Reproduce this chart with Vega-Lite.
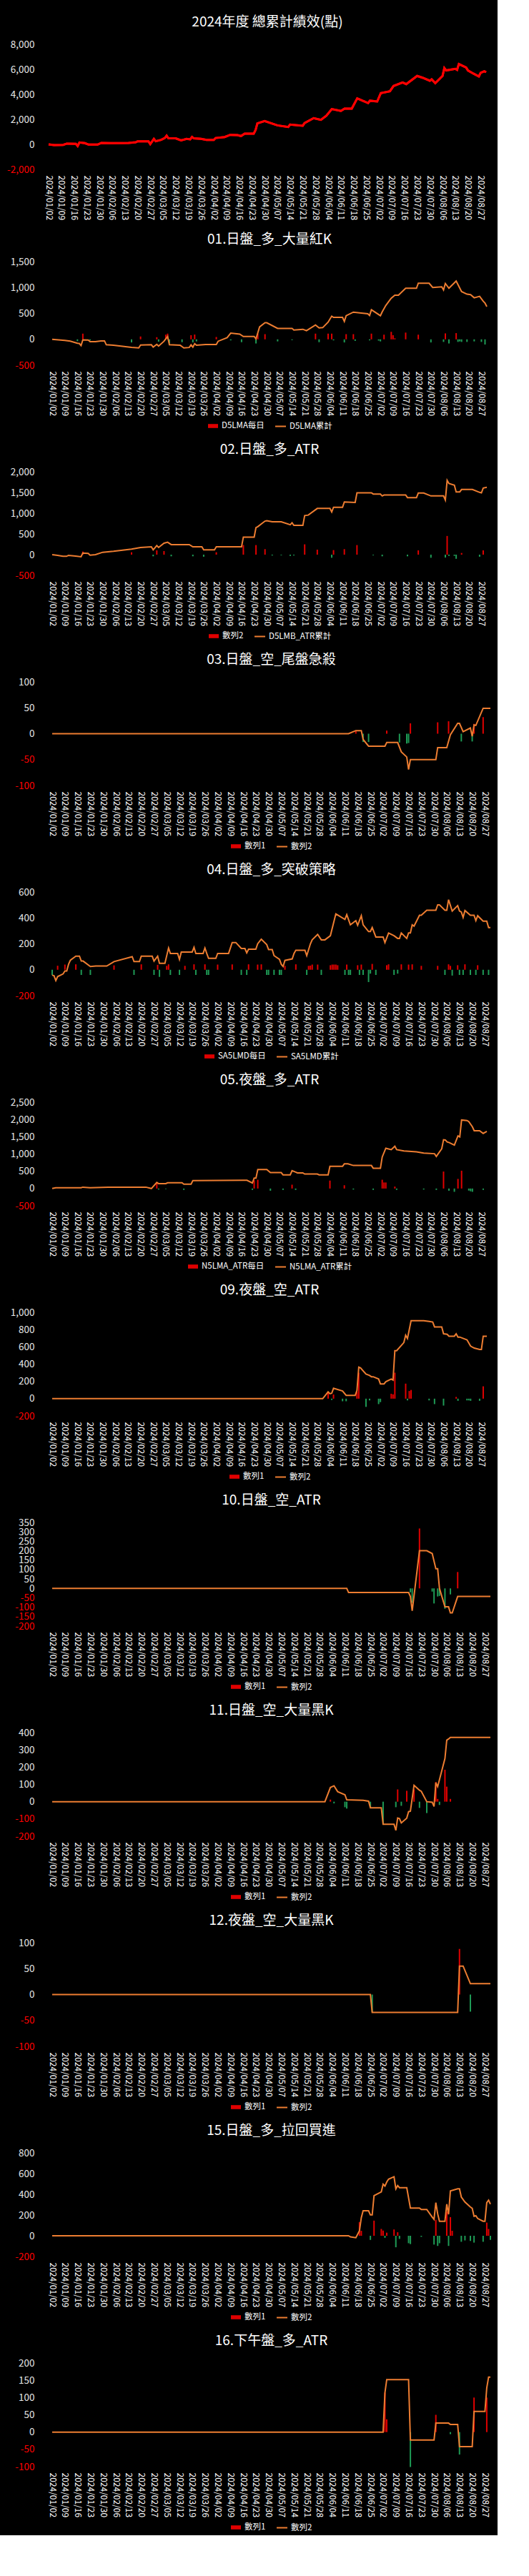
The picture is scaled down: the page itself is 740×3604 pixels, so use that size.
{
"$schema":"https://vega.github.io/schema/vega-lite/v6.json",
"background":"#000000",
"padding":{"left":5,"top":22,"right":5,"bottom":5},
"spacing":18,
"resolve":{"scale":{"fill":"independent","stroke":"independent"},"legend":{"fill":"independent","stroke":"independent"}},
"config":{
 "font":"Noto Sans CJK TC",
 "view":{"stroke":null},
 "title":{"color":"#ffffff","fontSize":19,"fontWeight":"normal","offset":14,"anchor":"middle"},
 "axis":{"grid":false,"domain":false,"ticks":false,"tickSize":0,"labelOverlap":false},
 "axisX":{"labelFontSize":12,"labelColor":"#ffffff","labelPadding":8,"labelFlush":false},
 "axisY":{"labelFontSize":13.5,"labelPadding":20},
 "legend":{"orient":"bottom","direction":"horizontal","labelColor":"#ffffff","labelFontSize":11.5,"offset":6,"layout":{"bottom":{"anchor":"middle","direction":"horizontal","margin":14}}}
},
"datasets":{
"p0":[{"d":"2024-01-02","c":0},{"d":"2024-01-05","c":-60},{"d":"2024-01-10","c":-40},{"d":"2024-01-12","c":60},{"d":"2024-01-17","c":40},{"d":"2024-01-18","c":-130},{"d":"2024-01-19","c":150},{"d":"2024-01-22","c":100},{"d":"2024-01-24","c":-20},{"d":"2024-01-29","c":-20},{"d":"2024-01-31","c":120},{"d":"2024-02-05","c":100},{"d":"2024-02-15","c":120},{"d":"2024-02-19","c":170},{"d":"2024-02-20","c":250},{"d":"2024-02-26","c":250},{"d":"2024-02-27","c":20},{"d":"2024-02-29","c":440},{"d":"2024-03-01","c":250},{"d":"2024-03-04","c":360},{"d":"2024-03-06","c":510},{"d":"2024-03-07","c":700},{"d":"2024-03-08","c":480},{"d":"2024-03-12","c":480},{"d":"2024-03-15","c":320},{"d":"2024-03-18","c":440},{"d":"2024-03-20","c":400},{"d":"2024-03-21","c":590},{"d":"2024-03-22","c":480},{"d":"2024-03-26","c":440},{"d":"2024-03-29","c":360},{"d":"2024-04-02","c":360},{"d":"2024-04-03","c":510},{"d":"2024-04-08","c":590},{"d":"2024-04-11","c":760},{"d":"2024-04-15","c":740},{"d":"2024-04-17","c":670},{"d":"2024-04-19","c":860},{"d":"2024-04-24","c":860},{"d":"2024-04-25","c":1140},{"d":"2024-04-26","c":1680},{"d":"2024-04-30","c":1870},{"d":"2024-05-07","c":1520},{"d":"2024-05-13","c":1390},{"d":"2024-05-14","c":1580},{"d":"2024-05-21","c":1490},{"d":"2024-05-22","c":1710},{"d":"2024-05-27","c":2100},{"d":"2024-05-31","c":1960},{"d":"2024-06-03","c":2290},{"d":"2024-06-06","c":2820},{"d":"2024-06-11","c":2670},{"d":"2024-06-13","c":2860},{"d":"2024-06-17","c":2860},{"d":"2024-06-20","c":3680},{"d":"2024-06-26","c":3300},{"d":"2024-06-27","c":3490},{"d":"2024-07-01","c":3430},{"d":"2024-07-03","c":4100},{"d":"2024-07-08","c":4250},{"d":"2024-07-10","c":4670},{"d":"2024-07-15","c":4950},{"d":"2024-07-17","c":4820},{"d":"2024-07-23","c":5470},{"d":"2024-07-26","c":5330},{"d":"2024-07-30","c":5090},{"d":"2024-07-31","c":5200},{"d":"2024-08-02","c":4900},{"d":"2024-08-06","c":5470},{"d":"2024-08-07","c":6100},{"d":"2024-08-08","c":5910},{"d":"2024-08-13","c":6040},{"d":"2024-08-14","c":5960},{"d":"2024-08-15","c":6420},{"d":"2024-08-19","c":6150},{"d":"2024-08-20","c":5910},{"d":"2024-08-23","c":5660},{"d":"2024-08-26","c":5430},{"d":"2024-08-27","c":5720},{"d":"2024-08-29","c":5850},{"d":"2024-08-30","c":5770}],
"p1":[{"d":"2024-01-02","c":0},{"d":"2024-01-09","c":-20},{"d":"2024-01-12","c":-35},{"d":"2024-01-16","c":-75},{"d":"2024-01-17","c":-80},{"d":"2024-01-18","c":-120},{"d":"2024-01-19","c":-10},{"d":"2024-01-22","c":-15},{"d":"2024-01-23","c":-45},{"d":"2024-01-26","c":-45},{"d":"2024-01-29","c":-30},{"d":"2024-01-31","c":-30},{"d":"2024-02-01","c":-105},{"d":"2024-02-05","c":-115},{"d":"2024-02-15","c":-155},{"d":"2024-02-19","c":-165},{"d":"2024-02-20","c":-110},{"d":"2024-02-26","c":-105},{"d":"2024-02-27","c":-150},{"d":"2024-02-29","c":-97},{"d":"2024-03-01","c":-130},{"d":"2024-03-04","c":-37},{"d":"2024-03-06","c":55},{"d":"2024-03-07","c":-105},{"d":"2024-03-13","c":-115},{"d":"2024-03-15","c":-165},{"d":"2024-03-18","c":-157},{"d":"2024-03-19","c":-105},{"d":"2024-03-20","c":-150},{"d":"2024-03-21","c":-83},{"d":"2024-03-22","c":-115},{"d":"2024-03-27","c":-100},{"d":"2024-04-02","c":-100},{"d":"2024-04-03","c":-37},{"d":"2024-04-08","c":32},{"d":"2024-04-10","c":120},{"d":"2024-04-15","c":100},{"d":"2024-04-17","c":55},{"d":"2024-04-23","c":55},{"d":"2024-04-24","c":10},{"d":"2024-04-25","c":125},{"d":"2024-04-26","c":240},{"d":"2024-04-29","c":320},{"d":"2024-04-30","c":320},{"d":"2024-05-06","c":212},{"d":"2024-05-14","c":212},{"d":"2024-05-15","c":180},{"d":"2024-05-20","c":194},{"d":"2024-05-22","c":166},{"d":"2024-05-27","c":276},{"d":"2024-05-29","c":221},{"d":"2024-05-31","c":226},{"d":"2024-06-03","c":332},{"d":"2024-06-05","c":447},{"d":"2024-06-06","c":424},{"d":"2024-06-11","c":424},{"d":"2024-06-12","c":346},{"d":"2024-06-13","c":456},{"d":"2024-06-17","c":525},{"d":"2024-06-25","c":493},{"d":"2024-06-26","c":460},{"d":"2024-06-27","c":571},{"d":"2024-07-02","c":456},{"d":"2024-07-03","c":530},{"d":"2024-07-05","c":654},{"d":"2024-07-08","c":793},{"d":"2024-07-10","c":852},{"d":"2024-07-12","c":852},{"d":"2024-07-16","c":986},{"d":"2024-07-22","c":986},{"d":"2024-07-23","c":1083},{"d":"2024-07-29","c":1083},{"d":"2024-07-31","c":1000},{"d":"2024-08-05","c":1014},{"d":"2024-08-06","c":954},{"d":"2024-08-07","c":1078},{"d":"2024-08-09","c":986},{"d":"2024-08-13","c":1124},{"d":"2024-08-16","c":922},{"d":"2024-08-19","c":871},{"d":"2024-08-21","c":862},{"d":"2024-08-23","c":802},{"d":"2024-08-26","c":829},{"d":"2024-08-28","c":737},{"d":"2024-08-29","c":700},{"d":"2024-08-30","c":631},
{"d":"2024-01-16","v":-35},{"d":"2024-01-19","v":110},{"d":"2024-01-23","v":-20},{"d":"2024-02-15","v":-60},{"d":"2024-02-20","v":55},{"d":"2024-02-29","v":41},{"d":"2024-03-01","v":-45},{"d":"2024-03-05","v":90},{"d":"2024-03-06","v":110},{"d":"2024-03-07","v":-80},{"d":"2024-03-14","v":-55},{"d":"2024-03-19","v":80},{"d":"2024-03-20","v":-60},{"d":"2024-03-21","v":92},{"d":"2024-03-22","v":-40},{"d":"2024-04-02","v":45},{"d":"2024-04-10","v":-20},{"d":"2024-04-16","v":-55},{"d":"2024-04-24","v":-80},{"d":"2024-04-25","v":110},{"d":"2024-04-29","v":100},{"d":"2024-05-06","v":-40},{"d":"2024-05-14","v":-15},{"d":"2024-05-27","v":110},{"d":"2024-05-29","v":-55},{"d":"2024-06-03","v":110},{"d":"2024-06-05","v":110},{"d":"2024-06-06","v":-20},{"d":"2024-06-12","v":-60},{"d":"2024-06-13","v":100},{"d":"2024-06-17","v":100},{"d":"2024-06-18","v":-30},{"d":"2024-06-26","v":-20},{"d":"2024-06-27","v":110},{"d":"2024-07-01","v":-25},{"d":"2024-07-02","v":-40},{"d":"2024-07-04","v":90},{"d":"2024-07-08","v":145},{"d":"2024-07-09","v":80},{"d":"2024-07-10","v":20},{"d":"2024-07-16","v":130},{"d":"2024-07-23","v":90},{"d":"2024-07-30","v":-60},{"d":"2024-08-06","v":-50},{"d":"2024-08-07","v":115},{"d":"2024-08-09","v":-80},{"d":"2024-08-13","v":120},{"d":"2024-08-14","v":-50},{"d":"2024-08-15","v":-40},{"d":"2024-08-16","v":-50},{"d":"2024-08-19","v":-50},{"d":"2024-08-23","v":-40},{"d":"2024-08-27","v":-50},{"d":"2024-08-29","v":-100}],
"p2":[{"d":"2024-01-02","c":0},{"d":"2024-01-05","c":-17},{"d":"2024-01-08","c":-40},{"d":"2024-01-10","c":-40},{"d":"2024-01-11","c":-17},{"d":"2024-01-15","c":-35},{"d":"2024-01-18","c":-52},{"d":"2024-01-19","c":40},{"d":"2024-01-22","c":29},{"d":"2024-01-23","c":-12},{"d":"2024-01-26","c":0},{"d":"2024-01-30","c":58},{"d":"2024-02-02","c":69},{"d":"2024-02-05","c":80},{"d":"2024-02-15","c":133},{"d":"2024-02-20","c":173},{"d":"2024-02-26","c":190},{"d":"2024-02-27","c":116},{"d":"2024-02-29","c":220},{"d":"2024-03-01","c":173},{"d":"2024-03-04","c":277},{"d":"2024-03-06","c":300},{"d":"2024-03-08","c":243},{"d":"2024-03-18","c":243},{"d":"2024-03-20","c":190},{"d":"2024-03-25","c":190},{"d":"2024-03-26","c":116},{"d":"2024-04-01","c":116},{"d":"2024-04-02","c":190},{"d":"2024-04-16","c":190},{"d":"2024-04-17","c":422},{"d":"2024-04-23","c":422},{"d":"2024-04-24","c":653},{"d":"2024-04-25","c":676},{"d":"2024-04-29","c":809},{"d":"2024-04-30","c":820},{"d":"2024-05-03","c":792},{"d":"2024-05-08","c":792},{"d":"2024-05-13","c":722},{"d":"2024-05-14","c":769},{"d":"2024-05-15","c":705},{"d":"2024-05-20","c":705},{"d":"2024-05-21","c":942},{"d":"2024-05-23","c":954},{"d":"2024-05-28","c":1115},{"d":"2024-06-04","c":1115},{"d":"2024-06-05","c":1029},{"d":"2024-06-06","c":1144},{"d":"2024-06-11","c":1144},{"d":"2024-06-12","c":1272},{"d":"2024-06-18","c":1260},{"d":"2024-06-19","c":1491},{"d":"2024-06-27","c":1491},{"d":"2024-06-28","c":1462},{"d":"2024-07-02","c":1462},{"d":"2024-07-03","c":1416},{"d":"2024-07-04","c":1439},{"d":"2024-07-16","c":1439},{"d":"2024-07-17","c":1376},{"d":"2024-07-22","c":1376},{"d":"2024-07-23","c":1485},{"d":"2024-07-26","c":1485},{"d":"2024-07-30","c":1416},{"d":"2024-08-06","c":1416},{"d":"2024-08-07","c":1318},{"d":"2024-08-08","c":1792},{"d":"2024-08-09","c":1717},{"d":"2024-08-12","c":1676},{"d":"2024-08-13","c":1514},{"d":"2024-08-15","c":1514},{"d":"2024-08-16","c":1572},{"d":"2024-08-22","c":1572},{"d":"2024-08-26","c":1503},{"d":"2024-08-27","c":1490},{"d":"2024-08-28","c":1607},{"d":"2024-08-30","c":1624},
{"d":"2024-01-19","v":75},{"d":"2024-02-15","v":58},{"d":"2024-02-27","v":-40},{"d":"2024-02-29","v":104},{"d":"2024-03-04","v":87},{"d":"2024-03-08","v":-40},{"d":"2024-03-20","v":-40},{"d":"2024-03-26","v":-50},{"d":"2024-04-02","v":58},{"d":"2024-04-17","v":231},{"d":"2024-04-24","v":231},{"d":"2024-04-29","v":133},{"d":"2024-05-03","v":-20},{"d":"2024-05-08","v":-15},{"d":"2024-05-13","v":-30},{"d":"2024-05-15","v":-20},{"d":"2024-05-21","v":249},{"d":"2024-05-28","v":121},{"d":"2024-06-05","v":-75},{"d":"2024-06-06","v":110},{"d":"2024-06-12","v":133},{"d":"2024-06-19","v":231},{"d":"2024-06-28","v":-15},{"d":"2024-07-03","v":-40},{"d":"2024-07-17","v":-40},{"d":"2024-07-23","v":104},{"d":"2024-07-30","v":-75},{"d":"2024-08-07","v":-70},{"d":"2024-08-08","v":451},{"d":"2024-08-09","v":-30},{"d":"2024-08-12","v":-30},{"d":"2024-08-13","v":-100},{"d":"2024-08-16","v":40},{"d":"2024-08-26","v":-50},{"d":"2024-08-28","v":104}],
"p3":[{"d":"2024-01-02","c":0},{"d":"2024-06-13","c":0},{"d":"2024-06-17","c":6},{"d":"2024-06-20","c":6},{"d":"2024-06-21","c":-11},{"d":"2024-06-24","c":-24},{"d":"2024-07-03","c":-24},{"d":"2024-07-04","c":-17},{"d":"2024-07-10","c":-17},{"d":"2024-07-12","c":-35},{"d":"2024-07-15","c":-45},{"d":"2024-07-16","c":-69},{"d":"2024-07-17","c":-50},{"d":"2024-07-31","c":-50},{"d":"2024-08-01","c":-27},{"d":"2024-08-06","c":-27},{"d":"2024-08-08","c":-2},{"d":"2024-08-12","c":20},{"d":"2024-08-13","c":20},{"d":"2024-08-15","c":4},{"d":"2024-08-19","c":11},{"d":"2024-08-20","c":-5},{"d":"2024-08-21","c":17},{"d":"2024-08-22","c":16},{"d":"2024-08-26","c":49},{"d":"2024-08-30","c":49},
{"d":"2024-06-17","v":6},{"d":"2024-06-21","v":-16},{"d":"2024-06-24","v":-16},{"d":"2024-07-04","v":6},{"d":"2024-07-11","v":-17},{"d":"2024-07-15","v":-19},{"d":"2024-07-16","v":-18},{"d":"2024-07-17","v":20},{"d":"2024-08-01","v":22},{"d":"2024-08-07","v":24},{"d":"2024-08-14","v":-15},{"d":"2024-08-20","v":-15},{"d":"2024-08-21","v":19},{"d":"2024-08-26","v":32}],
"p4":[{"d":"2024-01-02","c":-42},{"d":"2024-01-03","c":-46},{"d":"2024-01-04","c":-84},{"d":"2024-01-05","c":-53},{"d":"2024-01-08","c":-32},{"d":"2024-01-09","c":-10},{"d":"2024-01-10","c":-10},{"d":"2024-01-11","c":42},{"d":"2024-01-12","c":74},{"d":"2024-01-15","c":105},{"d":"2024-01-17","c":105},{"d":"2024-01-18","c":67},{"d":"2024-01-19","c":67},{"d":"2024-01-23","c":25},{"d":"2024-01-26","c":29},{"d":"2024-02-01","c":29},{"d":"2024-02-05","c":63},{"d":"2024-02-15","c":101},{"d":"2024-02-16","c":63},{"d":"2024-02-19","c":63},{"d":"2024-02-20","c":105},{"d":"2024-02-26","c":105},{"d":"2024-02-27","c":67},{"d":"2024-02-29","c":105},{"d":"2024-03-01","c":50},{"d":"2024-03-04","c":50},{"d":"2024-03-06","c":168},{"d":"2024-03-07","c":126},{"d":"2024-03-11","c":126},{"d":"2024-03-12","c":80},{"d":"2024-03-13","c":137},{"d":"2024-03-19","c":137},{"d":"2024-03-20","c":173},{"d":"2024-03-21","c":126},{"d":"2024-03-25","c":126},{"d":"2024-03-26","c":168},{"d":"2024-03-27","c":126},{"d":"2024-03-28","c":88},{"d":"2024-04-01","c":88},{"d":"2024-04-02","c":126},{"d":"2024-04-08","c":126},{"d":"2024-04-10","c":210},{"d":"2024-04-12","c":210},{"d":"2024-04-15","c":164},{"d":"2024-04-17","c":164},{"d":"2024-04-18","c":130},{"d":"2024-04-19","c":158},{"d":"2024-04-23","c":158},{"d":"2024-04-24","c":200},{"d":"2024-04-26","c":236},{"d":"2024-04-29","c":194},{"d":"2024-04-30","c":156},{"d":"2024-05-02","c":156},{"d":"2024-05-03","c":109},{"d":"2024-05-06","c":80},{"d":"2024-05-07","c":42},{"d":"2024-05-08","c":25},{"d":"2024-05-09","c":72},{"d":"2024-05-13","c":84},{"d":"2024-05-14","c":126},{"d":"2024-05-15","c":151},{"d":"2024-05-20","c":151},{"d":"2024-05-21","c":109},{"d":"2024-05-23","c":200},{"d":"2024-05-24","c":231},{"d":"2024-05-27","c":273},{"d":"2024-05-29","c":231},{"d":"2024-05-31","c":231},{"d":"2024-06-03","c":263},{"d":"2024-06-06","c":431},{"d":"2024-06-11","c":389},{"d":"2024-06-12","c":425},{"d":"2024-06-14","c":347},{"d":"2024-06-17","c":379},{"d":"2024-06-18","c":343},{"d":"2024-06-20","c":417},{"d":"2024-06-21","c":347},{"d":"2024-06-24","c":295},{"d":"2024-06-25","c":295},{"d":"2024-06-26","c":326},{"d":"2024-06-28","c":253},{"d":"2024-07-02","c":253},{"d":"2024-07-03","c":210},{"d":"2024-07-05","c":284},{"d":"2024-07-08","c":263},{"d":"2024-07-10","c":242},{"d":"2024-07-11","c":242},{"d":"2024-07-12","c":284},{"d":"2024-07-15","c":242},{"d":"2024-07-16","c":284},{"d":"2024-07-17","c":284},{"d":"2024-07-18","c":347},{"d":"2024-07-19","c":337},{"d":"2024-07-22","c":421},{"d":"2024-07-23","c":421},{"d":"2024-07-26","c":459},{"d":"2024-07-31","c":459},{"d":"2024-08-01","c":501},{"d":"2024-08-02","c":501},{"d":"2024-08-05","c":459},{"d":"2024-08-06","c":459},{"d":"2024-08-07","c":541},{"d":"2024-08-09","c":453},{"d":"2024-08-12","c":495},{"d":"2024-08-13","c":453},{"d":"2024-08-14","c":446},{"d":"2024-08-15","c":404},{"d":"2024-08-16","c":457},{"d":"2024-08-19","c":421},{"d":"2024-08-21","c":421},{"d":"2024-08-22","c":379},{"d":"2024-08-23","c":417},{"d":"2024-08-26","c":375},{"d":"2024-08-28","c":375},{"d":"2024-08-29","c":326},{"d":"2024-08-30","c":326},
{"d":"2024-01-05","v":31},{"d":"2024-01-09","v":40},{"d":"2024-01-15","v":42},{"d":"2024-02-05","v":34},{"d":"2024-02-20","v":42},{"d":"2024-02-29","v":38},{"d":"2024-03-05","v":30},{"d":"2024-03-06","v":42},{"d":"2024-03-15","v":30},{"d":"2024-03-20","v":42},{"d":"2024-03-26","v":42},{"d":"2024-04-02","v":40},{"d":"2024-04-10","v":42},{"d":"2024-04-19","v":42},{"d":"2024-04-24","v":40},{"d":"2024-04-26","v":42},{"d":"2024-05-09","v":30},{"d":"2024-05-15","v":42},{"d":"2024-05-22","v":30},{"d":"2024-05-23","v":32},{"d":"2024-05-24","v":40},{"d":"2024-05-27","v":40},{"d":"2024-06-03","v":35},{"d":"2024-06-04","v":40},{"d":"2024-06-05","v":40},{"d":"2024-06-06","v":40},{"d":"2024-06-07","v":35},{"d":"2024-06-12","v":40},{"d":"2024-06-18","v":35},{"d":"2024-06-20","v":40},{"d":"2024-06-26","v":45},{"d":"2024-07-04","v":35},{"d":"2024-07-05","v":42},{"d":"2024-07-12","v":42},{"d":"2024-07-16","v":40},{"d":"2024-07-18","v":42},{"d":"2024-07-23","v":30},{"d":"2024-08-01","v":30},{"d":"2024-08-07","v":42},{"d":"2024-08-08","v":30},{"d":"2024-08-12","v":35},{"d":"2024-08-16","v":42},{"d":"2024-08-23","v":35},
{"d":"2024-01-02","v":-42},{"d":"2024-01-18","v":-40},{"d":"2024-01-23","v":-40},{"d":"2024-02-16","v":-40},{"d":"2024-02-27","v":-40},{"d":"2024-03-01","v":-55},{"d":"2024-03-07","v":-40},{"d":"2024-03-12","v":-40},{"d":"2024-03-21","v":-40},{"d":"2024-03-27","v":-40},{"d":"2024-03-28","v":-40},{"d":"2024-04-15","v":-40},{"d":"2024-04-18","v":-40},{"d":"2024-04-29","v":-40},{"d":"2024-04-30","v":-40},{"d":"2024-05-03","v":-40},{"d":"2024-05-06","v":-40},{"d":"2024-05-07","v":-40},{"d":"2024-05-21","v":-40},{"d":"2024-05-29","v":-40},{"d":"2024-06-11","v":-40},{"d":"2024-06-13","v":-40},{"d":"2024-06-14","v":-40},{"d":"2024-06-19","v":-40},{"d":"2024-06-21","v":-40},{"d":"2024-06-24","v":-95},{"d":"2024-06-25","v":-30},{"d":"2024-06-28","v":-40},{"d":"2024-07-08","v":-40},{"d":"2024-07-10","v":-30},{"d":"2024-08-05","v":-40},{"d":"2024-08-09","v":-45},{"d":"2024-08-13","v":-40},{"d":"2024-08-15","v":-40},{"d":"2024-08-19","v":-40},{"d":"2024-08-22","v":-40},{"d":"2024-08-26","v":-40},{"d":"2024-08-29","v":-40}],
"p5":[{"d":"2024-01-02","c":0},{"d":"2024-01-04","c":24},{"d":"2024-01-18","c":24},{"d":"2024-01-19","c":40},{"d":"2024-01-23","c":24},{"d":"2024-02-02","c":40},{"d":"2024-02-23","c":40},{"d":"2024-02-26","c":0},{"d":"2024-02-29","c":175},{"d":"2024-03-01","c":143},{"d":"2024-03-05","c":143},{"d":"2024-03-06","c":167},{"d":"2024-03-14","c":167},{"d":"2024-03-15","c":127},{"d":"2024-03-19","c":127},{"d":"2024-03-20","c":230},{"d":"2024-04-17","c":238},{"d":"2024-04-19","c":238},{"d":"2024-04-22","c":159},{"d":"2024-04-23","c":302},{"d":"2024-04-24","c":302},{"d":"2024-04-25","c":548},{"d":"2024-04-30","c":548},{"d":"2024-05-02","c":460},{"d":"2024-05-08","c":460},{"d":"2024-05-09","c":397},{"d":"2024-05-13","c":397},{"d":"2024-05-14","c":516},{"d":"2024-05-16","c":476},{"d":"2024-05-17","c":452},{"d":"2024-05-20","c":452},{"d":"2024-05-21","c":421},{"d":"2024-05-28","c":421},{"d":"2024-05-29","c":397},{"d":"2024-06-03","c":397},{"d":"2024-06-04","c":643},{"d":"2024-06-11","c":643},{"d":"2024-06-12","c":714},{"d":"2024-06-14","c":714},{"d":"2024-06-17","c":667},{"d":"2024-06-27","c":667},{"d":"2024-06-28","c":588},{"d":"2024-07-02","c":588},{"d":"2024-07-03","c":913},{"d":"2024-07-05","c":1167},{"d":"2024-07-08","c":1127},{"d":"2024-07-10","c":1223},{"d":"2024-07-11","c":1127},{"d":"2024-07-15","c":1088},{"d":"2024-07-22","c":1064},{"d":"2024-07-26","c":1024},{"d":"2024-08-01","c":1008},{"d":"2024-08-02","c":929},{"d":"2024-08-05","c":1151},{"d":"2024-08-06","c":1413},{"d":"2024-08-07","c":1405},{"d":"2024-08-08","c":1350},{"d":"2024-08-09","c":1334},{"d":"2024-08-12","c":1254},{"d":"2024-08-14","c":1524},{"d":"2024-08-15","c":1493},{"d":"2024-08-16","c":1985},{"d":"2024-08-19","c":1969},{"d":"2024-08-20","c":1937},{"d":"2024-08-22","c":1787},{"d":"2024-08-23","c":1675},{"d":"2024-08-26","c":1675},{"d":"2024-08-28","c":1596},{"d":"2024-08-30","c":1652},
{"d":"2024-02-29","v":175},{"d":"2024-03-01","v":-30},{"d":"2024-03-05","v":-15},{"d":"2024-03-15","v":-40},{"d":"2024-04-22","v":-40},{"d":"2024-04-23","v":238},{"d":"2024-04-25","v":254},{"d":"2024-05-02","v":-64},{"d":"2024-05-09","v":-40},{"d":"2024-05-14","v":111},{"d":"2024-05-16","v":-40},{"d":"2024-06-04","v":230},{"d":"2024-06-12","v":95},{"d":"2024-06-17","v":-30},{"d":"2024-06-28","v":-40},{"d":"2024-07-03","v":254},{"d":"2024-07-04","v":175},{"d":"2024-07-05","v":175},{"d":"2024-07-10","v":56},{"d":"2024-07-11","v":-40},{"d":"2024-07-26","v":-30},{"d":"2024-08-02","v":-40},{"d":"2024-08-06","v":492},{"d":"2024-08-09","v":-64},{"d":"2024-08-12","v":-95},{"d":"2024-08-14","v":278},{"d":"2024-08-16","v":516},{"d":"2024-08-20","v":-60},{"d":"2024-08-21","v":-80},{"d":"2024-08-22","v":-95},{"d":"2024-08-28","v":-40}],
"p9":[{"d":"2024-01-02","c":0},{"d":"2024-05-31","c":0},{"d":"2024-06-03","c":79},{"d":"2024-06-04","c":57},{"d":"2024-06-05","c":63},{"d":"2024-06-06","c":120},{"d":"2024-06-11","c":89},{"d":"2024-06-13","c":38},{"d":"2024-06-18","c":38},{"d":"2024-06-19","c":95},{"d":"2024-06-20","c":365},{"d":"2024-06-21","c":355},{"d":"2024-06-24","c":285},{"d":"2024-06-26","c":269},{"d":"2024-06-27","c":254},{"d":"2024-06-28","c":254},{"d":"2024-07-01","c":228},{"d":"2024-07-02","c":171},{"d":"2024-07-04","c":171},{"d":"2024-07-05","c":197},{"d":"2024-07-08","c":228},{"d":"2024-07-09","c":216},{"d":"2024-07-10","c":555},{"d":"2024-07-11","c":555},{"d":"2024-07-15","c":650},{"d":"2024-07-16","c":735},{"d":"2024-07-17","c":697},{"d":"2024-07-19","c":903},{"d":"2024-07-26","c":903},{"d":"2024-07-29","c":894},{"d":"2024-07-31","c":888},{"d":"2024-08-01","c":831},{"d":"2024-08-05","c":831},{"d":"2024-08-06","c":751},{"d":"2024-08-08","c":745},{"d":"2024-08-09","c":723},{"d":"2024-08-12","c":723},{"d":"2024-08-13","c":751},{"d":"2024-08-14","c":713},{"d":"2024-08-15","c":713},{"d":"2024-08-19","c":681},{"d":"2024-08-21","c":608},{"d":"2024-08-23","c":586},{"d":"2024-08-26","c":570},{"d":"2024-08-27","c":570},{"d":"2024-08-28","c":723},{"d":"2024-08-30","c":723},
{"d":"2024-06-03","v":79},{"d":"2024-06-05","v":-15},{"d":"2024-06-06","v":48},{"d":"2024-06-11","v":-30},{"d":"2024-06-13","v":-30},{"d":"2024-06-19","v":79},{"d":"2024-06-20","v":300},{"d":"2024-06-24","v":-95},{"d":"2024-06-26","v":-20},{"d":"2024-07-01","v":-63},{"d":"2024-07-02","v":-40},{"d":"2024-07-08","v":57},{"d":"2024-07-09","v":50},{"d":"2024-07-10","v":301},{"d":"2024-07-16","v":174},{"d":"2024-07-17","v":-20},{"d":"2024-07-18","v":89},{"d":"2024-07-19","v":101},{"d":"2024-07-29","v":-20},{"d":"2024-08-01","v":-63},{"d":"2024-08-06","v":-80},{"d":"2024-08-13","v":20},{"d":"2024-08-14","v":-25},{"d":"2024-08-19","v":-20},{"d":"2024-08-20","v":-20},{"d":"2024-08-21","v":-25},{"d":"2024-08-26","v":-25},{"d":"2024-08-28","v":143}],
"p10":[{"d":"2024-01-02","c":0},{"d":"2024-06-12","c":0},{"d":"2024-06-13","c":-22},{"d":"2024-07-16","c":-22},{"d":"2024-07-17","c":-43},{"d":"2024-07-18","c":-119},{"d":"2024-07-22","c":200},{"d":"2024-07-26","c":200},{"d":"2024-07-29","c":185},{"d":"2024-07-31","c":104},{"d":"2024-08-01","c":104},{"d":"2024-08-02","c":0},{"d":"2024-08-05","c":-98},{"d":"2024-08-07","c":-98},{"d":"2024-08-08","c":-130},{"d":"2024-08-09","c":-130},{"d":"2024-08-12","c":-43},{"d":"2024-08-30","c":-43},
{"d":"2024-07-17","v":-21},{"d":"2024-07-18","v":-76},{"d":"2024-07-22","v":318},{"d":"2024-07-29","v":-17},{"d":"2024-07-30","v":-80},{"d":"2024-08-01","v":-43},{"d":"2024-08-02","v":-40},{"d":"2024-08-05","v":-108},{"d":"2024-08-08","v":-32},{"d":"2024-08-12","v":87}],
"p11":[{"d":"2024-01-02","c":0},{"d":"2024-05-31","c":0},{"d":"2024-06-03","c":82},{"d":"2024-06-05","c":92},{"d":"2024-06-07","c":58},{"d":"2024-06-11","c":40},{"d":"2024-06-12","c":11},{"d":"2024-06-21","c":8},{"d":"2024-06-24","c":3},{"d":"2024-06-25","c":-35},{"d":"2024-07-01","c":-35},{"d":"2024-07-02","c":-131},{"d":"2024-07-08","c":-131},{"d":"2024-07-09","c":-166},{"d":"2024-07-10","c":-95},{"d":"2024-07-11","c":-98},{"d":"2024-07-12","c":-123},{"d":"2024-07-15","c":-95},{"d":"2024-07-16","c":-58},{"d":"2024-07-17","c":-55},{"d":"2024-07-19","c":95},{"d":"2024-07-22","c":66},{"d":"2024-07-23","c":60},{"d":"2024-07-26","c":0},{"d":"2024-07-29","c":-3},{"d":"2024-07-30","c":-28},{"d":"2024-07-31","c":110},{"d":"2024-08-01","c":87},{"d":"2024-08-05","c":250},{"d":"2024-08-06","c":356},{"d":"2024-08-07","c":363},{"d":"2024-08-08","c":372},{"d":"2024-08-30","c":372},
{"d":"2024-06-03","v":12},{"d":"2024-06-05","v":-10},{"d":"2024-06-11","v":-32},{"d":"2024-06-12","v":-40},{"d":"2024-06-25","v":-32},{"d":"2024-07-02","v":-134},{"d":"2024-07-09","v":-32},{"d":"2024-07-10","v":71},{"d":"2024-07-12","v":-24},{"d":"2024-07-15","v":63},{"d":"2024-07-19","v":71},{"d":"2024-07-22","v":-36},{"d":"2024-07-26","v":-66},{"d":"2024-07-31","v":114},{"d":"2024-08-01","v":16},{"d":"2024-08-02","v":-19},{"d":"2024-08-05","v":185},{"d":"2024-08-06","v":87},{"d":"2024-08-08","v":16}],
"p12":[{"d":"2024-01-02","c":0},{"d":"2024-06-25","c":0},{"d":"2024-06-26","c":-34.5},{"d":"2024-08-12","c":-34.5},{"d":"2024-08-13","c":55},{"d":"2024-08-15","c":55},{"d":"2024-08-19","c":21},{"d":"2024-08-30","c":21},
{"d":"2024-06-26","v":-34},{"d":"2024-08-13","v":88},{"d":"2024-08-19","v":-33}],
"p15":[{"d":"2024-01-02","c":0},{"d":"2024-06-13","c":0},{"d":"2024-06-14","c":-11},{"d":"2024-06-17","c":-19},{"d":"2024-06-19","c":48},{"d":"2024-06-20","c":175},{"d":"2024-06-21","c":241},{"d":"2024-06-24","c":241},{"d":"2024-06-25","c":201},{"d":"2024-06-26","c":201},{"d":"2024-06-27","c":387},{"d":"2024-07-01","c":424},{"d":"2024-07-02","c":498},{"d":"2024-07-03","c":479},{"d":"2024-07-04","c":519},{"d":"2024-07-05","c":546},{"d":"2024-07-08","c":570},{"d":"2024-07-09","c":453},{"d":"2024-07-10","c":485},{"d":"2024-07-11","c":464},{"d":"2024-07-15","c":464},{"d":"2024-07-17","c":268},{"d":"2024-07-22","c":268},{"d":"2024-07-23","c":254},{"d":"2024-07-26","c":254},{"d":"2024-07-29","c":180},{"d":"2024-07-30","c":159},{"d":"2024-07-31","c":320},{"d":"2024-08-01","c":212},{"d":"2024-08-02","c":140},{"d":"2024-08-05","c":140},{"d":"2024-08-06","c":305},{"d":"2024-08-07","c":207},{"d":"2024-08-08","c":432},{"d":"2024-08-12","c":453},{"d":"2024-08-13","c":453},{"d":"2024-08-14","c":374},{"d":"2024-08-16","c":326},{"d":"2024-08-19","c":278},{"d":"2024-08-20","c":265},{"d":"2024-08-21","c":188},{"d":"2024-08-22","c":193},{"d":"2024-08-23","c":167},{"d":"2024-08-26","c":140},{"d":"2024-08-27","c":140},{"d":"2024-08-28","c":320},{"d":"2024-08-29","c":344},{"d":"2024-08-30","c":305},
{"d":"2024-06-19","v":132},{"d":"2024-06-20","v":48},{"d":"2024-06-25","v":-40},{"d":"2024-06-27","v":146},{"d":"2024-07-01","v":66},{"d":"2024-07-02","v":50},{"d":"2024-07-03","v":-20},{"d":"2024-07-04","v":30},{"d":"2024-07-08","v":61},{"d":"2024-07-09","v":-111},{"d":"2024-07-10","v":34},{"d":"2024-07-11","v":-30},{"d":"2024-07-16","v":-72},{"d":"2024-07-17","v":-80},{"d":"2024-07-23","v":-10},{"d":"2024-07-30","v":-85},{"d":"2024-07-31","v":154},{"d":"2024-08-01","v":-98},{"d":"2024-08-02","v":-72},{"d":"2024-08-06","v":233},{"d":"2024-08-07","v":-98},{"d":"2024-08-08","v":180},{"d":"2024-08-09","v":48},{"d":"2024-08-14","v":-58},{"d":"2024-08-16","v":-45},{"d":"2024-08-19","v":-50},{"d":"2024-08-21","v":-66},{"d":"2024-08-26","v":-58},{"d":"2024-08-28","v":127},{"d":"2024-08-29","v":66},{"d":"2024-08-30","v":-40}],
"p16":[{"d":"2024-01-02","c":0},{"d":"2024-07-02","c":0},{"d":"2024-07-03","c":114},{"d":"2024-07-04","c":152},{"d":"2024-07-16","c":152},{"d":"2024-07-17","c":-23},{"d":"2024-07-30","c":-23},{"d":"2024-07-31","c":26},{"d":"2024-08-07","c":26},{"d":"2024-08-08","c":22},{"d":"2024-08-12","c":22},{"d":"2024-08-13","c":-42},{"d":"2024-08-20","c":-42},{"d":"2024-08-21","c":60},{"d":"2024-08-27","c":60},{"d":"2024-08-28","c":128},{"d":"2024-08-29","c":159},{"d":"2024-08-30","c":159},
{"d":"2024-07-03","v":114},{"d":"2024-07-04","v":37},{"d":"2024-07-17","v":-101},{"d":"2024-07-31","v":50},{"d":"2024-08-08","v":-6},{"d":"2024-08-13","v":-65},{"d":"2024-08-21","v":100},{"d":"2024-08-28","v":100}]
},
"vconcat":[
{"title":"2024年度 總累計績效(點)","width":612,"height":175,"data":{"name":"p0"},
 "encoding":{"x":{"field":"d","type":"temporal","scale":{"type":"utc","domain":[1704153600000,1724976000000]},"axis":{"values":[1704153600000,1704758400000,1705363200000,1705968000000,1706572800000,1707177600000,1707782400000,1708387200000,1708992000000,1709596800000,1710201600000,1710806400000,1711411200000,1712016000000,1712620800000,1713225600000,1713830400000,1714435200000,1715040000000,1715644800000,1716249600000,1716854400000,1717459200000,1718064000000,1718668800000,1719273600000,1719878400000,1720483200000,1721088000000,1721692800000,1722297600000,1722902400000,1723507200000,1724112000000,1724716800000],"tickCount":100,"format":"%Y/%m/%d","labelAngle":90,"labelOverlap":false,"title":null}}},
 "layer":[
  {"mark":{"type":"line","color":"#ff0000","strokeWidth":3},"encoding":{"y":{"field":"c","type":"quantitative","scale":{"domain":[-2000,8000],"nice":false},"axis":{"values":[-2000,0,2000,4000,6000,8000],"tickCount":100,"format":",d","labelOverlap":false,"labelExpr":"replace(datum.label,'\u2212','-')","labelColor":{"condition":{"test":"datum.value < 0","value":"#ff0000"},"value":"#e6e6e6"},"minExtent":63,"maxExtent":63,"title":null}}}},
  {"data":{"values":[{}]},"mark":{"type":"rule","color":"#808080","strokeWidth":1.5},"encoding":{"x":{"datum":1704153600000,"type":"temporal","axis":{"title":null}},"x2":{"datum":1724976000000},"y":{"datum":0,"type":"quantitative","scale":{"domain":[-2000,8000],"nice":false},"axis":{"title":null}}}},
  {"mark":{"type":"line","color":"#ff0000","strokeWidth":3},"encoding":{"y":{"field":"c","type":"quantitative","scale":{"domain":[-2000,8000],"nice":false},"axis":{"title":null}}}}
 ]},
{"title":"01.日盤_多_大量紅K","width":618,"height":145,"data":{"name":"p1"},
 "encoding":{"x":{"field":"d","type":"temporal","scale":{"type":"utc","domain":[1704153600000,1724976000000]},"axis":{"values":[1704153600000,1704758400000,1705363200000,1705968000000,1706572800000,1707177600000,1707782400000,1708387200000,1708992000000,1709596800000,1710201600000,1710806400000,1711411200000,1712016000000,1712620800000,1713225600000,1713830400000,1714435200000,1715040000000,1715644800000,1716249600000,1716854400000,1717459200000,1718064000000,1718668800000,1719273600000,1719878400000,1720483200000,1721088000000,1721692800000,1722297600000,1722902400000,1723507200000,1724112000000,1724716800000],"tickCount":100,"format":"%Y/%m/%d","labelAngle":90,"labelOverlap":false,"title":null}}},
 "layer":[
  {"transform":[{"filter":"isValid(datum.c)"}],"mark":{"type":"line","strokeWidth":2,"opacity":0},"encoding":{"y":{"field":"c","type":"quantitative","scale":{"domain":[-500,1500],"nice":false},"axis":{"values":[-500,0,500,1000,1500],"tickCount":100,"format":",d","labelOverlap":false,"labelExpr":"replace(datum.label,'\u2212','-')","labelColor":{"condition":{"test":"datum.value < 0","value":"#ff0000"},"value":"#e6e6e6"},"minExtent":57,"maxExtent":57,"title":null}}}},
  {"data":{"values":[{}]},"mark":{"type":"rule","color":"#808080","strokeWidth":1.5},"encoding":{"x":{"datum":1704153600000,"type":"temporal","axis":{"title":null}},"x2":{"datum":1724976000000},"y":{"datum":0,"type":"quantitative","scale":{"domain":[-500,1500],"nice":false},"axis":{"title":null}}}},
  {"transform":[{"filter":"datum.v > 0"}],"mark":{"type":"bar","size":2},"encoding":{"y":{"field":"v","type":"quantitative","stack":null,"scale":{"domain":[-500,1500],"nice":false},"axis":{"title":null}},"fill":{"datum":"D5LMA每日","type":"nominal","scale":{"range":["#e00000"]},"legend":{"title":null,"symbolType":"M-1,-0.4H1V0.4H-1Z","symbolSize":196}}}},
  {"transform":[{"filter":"datum.v < 0"}],"mark":{"type":"bar","size":2,"color":"#1e9a55"},"encoding":{"y":{"field":"v","type":"quantitative","stack":null,"scale":{"domain":[-500,1500],"nice":false},"axis":{"title":null}}}},
  {"transform":[{"filter":"isValid(datum.c)"}],"mark":{"type":"line","strokeWidth":2},"encoding":{"y":{"field":"c","type":"quantitative","scale":{"domain":[-500,1500],"nice":false},"axis":{"title":null}},"stroke":{"datum":"D5LMA累計","type":"nominal","scale":{"range":["#ed7d31"]},"legend":{"title":null,"symbolType":"stroke","symbolSize":225,"symbolStrokeWidth":2}}}}
 ]},
{"title":"02.日盤_多_ATR","width":618,"height":145,"data":{"name":"p2"},
 "encoding":{"x":{"field":"d","type":"temporal","scale":{"type":"utc","domain":[1704153600000,1724976000000]},"axis":{"values":[1704153600000,1704758400000,1705363200000,1705968000000,1706572800000,1707177600000,1707782400000,1708387200000,1708992000000,1709596800000,1710201600000,1710806400000,1711411200000,1712016000000,1712620800000,1713225600000,1713830400000,1714435200000,1715040000000,1715644800000,1716249600000,1716854400000,1717459200000,1718064000000,1718668800000,1719273600000,1719878400000,1720483200000,1721088000000,1721692800000,1722297600000,1722902400000,1723507200000,1724112000000,1724716800000],"tickCount":100,"format":"%Y/%m/%d","labelAngle":90,"labelOverlap":false,"title":null}}},
 "layer":[
  {"transform":[{"filter":"isValid(datum.c)"}],"mark":{"type":"line","strokeWidth":2,"opacity":0},"encoding":{"y":{"field":"c","type":"quantitative","scale":{"domain":[-500,2000],"nice":false},"axis":{"values":[-500,0,500,1000,1500,2000],"tickCount":100,"format":",d","labelOverlap":false,"labelExpr":"replace(datum.label,'\u2212','-')","labelColor":{"condition":{"test":"datum.value < 0","value":"#ff0000"},"value":"#e6e6e6"},"minExtent":57,"maxExtent":57,"title":null}}}},
  {"data":{"values":[{}]},"mark":{"type":"rule","color":"#808080","strokeWidth":1.5},"encoding":{"x":{"datum":1704153600000,"type":"temporal","axis":{"title":null}},"x2":{"datum":1724976000000},"y":{"datum":0,"type":"quantitative","scale":{"domain":[-500,2000],"nice":false},"axis":{"title":null}}}},
  {"transform":[{"filter":"datum.v > 0"}],"mark":{"type":"bar","size":2},"encoding":{"y":{"field":"v","type":"quantitative","stack":null,"scale":{"domain":[-500,2000],"nice":false},"axis":{"title":null}},"fill":{"datum":"數列2","type":"nominal","scale":{"range":["#e00000"]},"legend":{"title":null,"symbolType":"M-1,-0.4H1V0.4H-1Z","symbolSize":196}}}},
  {"transform":[{"filter":"datum.v < 0"}],"mark":{"type":"bar","size":2,"color":"#1e9a55"},"encoding":{"y":{"field":"v","type":"quantitative","stack":null,"scale":{"domain":[-500,2000],"nice":false},"axis":{"title":null}}}},
  {"transform":[{"filter":"isValid(datum.c)"}],"mark":{"type":"line","strokeWidth":2},"encoding":{"y":{"field":"c","type":"quantitative","scale":{"domain":[-500,2000],"nice":false},"axis":{"title":null}},"stroke":{"datum":"D5LMB_ATR累計","type":"nominal","scale":{"range":["#ed7d31"]},"legend":{"title":null,"symbolType":"stroke","symbolSize":225,"symbolStrokeWidth":2}}}}
 ]},
{"title":"03.日盤_空_尾盤急殺","width":623,"height":145,"data":{"name":"p3"},
 "encoding":{"x":{"field":"d","type":"temporal","scale":{"type":"utc","domain":[1704153600000,1724976000000]},"axis":{"values":[1704153600000,1704758400000,1705363200000,1705968000000,1706572800000,1707177600000,1707782400000,1708387200000,1708992000000,1709596800000,1710201600000,1710806400000,1711411200000,1712016000000,1712620800000,1713225600000,1713830400000,1714435200000,1715040000000,1715644800000,1716249600000,1716854400000,1717459200000,1718064000000,1718668800000,1719273600000,1719878400000,1720483200000,1721088000000,1721692800000,1722297600000,1722902400000,1723507200000,1724112000000,1724716800000],"tickCount":100,"format":"%Y/%m/%d","labelAngle":90,"labelOverlap":false,"title":null}}},
 "layer":[
  {"transform":[{"filter":"isValid(datum.c)"}],"mark":{"type":"line","strokeWidth":2,"opacity":0},"encoding":{"y":{"field":"c","type":"quantitative","scale":{"domain":[-100,100],"nice":false},"axis":{"values":[-100,-50,0,50,100],"tickCount":100,"format":",d","labelOverlap":false,"labelExpr":"replace(datum.label,'\u2212','-')","labelColor":{"condition":{"test":"datum.value < 0","value":"#ff0000"},"value":"#e6e6e6"},"minExtent":52,"maxExtent":52,"title":null}}}},
  {"data":{"values":[{}]},"mark":{"type":"rule","color":"#808080","strokeWidth":1.5},"encoding":{"x":{"datum":1704153600000,"type":"temporal","axis":{"title":null}},"x2":{"datum":1724976000000},"y":{"datum":0,"type":"quantitative","scale":{"domain":[-100,100],"nice":false},"axis":{"title":null}}}},
  {"transform":[{"filter":"datum.v > 0"}],"mark":{"type":"bar","size":2},"encoding":{"y":{"field":"v","type":"quantitative","stack":null,"scale":{"domain":[-100,100],"nice":false},"axis":{"title":null}},"fill":{"datum":"數列1","type":"nominal","scale":{"range":["#e00000"]},"legend":{"title":null,"symbolType":"M-1,-0.4H1V0.4H-1Z","symbolSize":196}}}},
  {"transform":[{"filter":"datum.v < 0"}],"mark":{"type":"bar","size":2,"color":"#1e9a55"},"encoding":{"y":{"field":"v","type":"quantitative","stack":null,"scale":{"domain":[-100,100],"nice":false},"axis":{"title":null}}}},
  {"transform":[{"filter":"isValid(datum.c)"}],"mark":{"type":"line","strokeWidth":2},"encoding":{"y":{"field":"c","type":"quantitative","scale":{"domain":[-100,100],"nice":false},"axis":{"title":null}},"stroke":{"datum":"數列2","type":"nominal","scale":{"range":["#ed7d31"]},"legend":{"title":null,"symbolType":"stroke","symbolSize":225,"symbolStrokeWidth":2}}}}
 ]},
{"title":"04.日盤_多_突破策略","width":623,"height":145,"data":{"name":"p4"},
 "encoding":{"x":{"field":"d","type":"temporal","scale":{"type":"utc","domain":[1704153600000,1724976000000]},"axis":{"values":[1704153600000,1704758400000,1705363200000,1705968000000,1706572800000,1707177600000,1707782400000,1708387200000,1708992000000,1709596800000,1710201600000,1710806400000,1711411200000,1712016000000,1712620800000,1713225600000,1713830400000,1714435200000,1715040000000,1715644800000,1716249600000,1716854400000,1717459200000,1718064000000,1718668800000,1719273600000,1719878400000,1720483200000,1721088000000,1721692800000,1722297600000,1722902400000,1723507200000,1724112000000,1724716800000],"tickCount":100,"format":"%Y/%m/%d","labelAngle":90,"labelOverlap":false,"title":null}}},
 "layer":[
  {"transform":[{"filter":"isValid(datum.c)"}],"mark":{"type":"line","strokeWidth":2,"opacity":0},"encoding":{"y":{"field":"c","type":"quantitative","scale":{"domain":[-200,600],"nice":false},"axis":{"values":[-200,0,200,400,600],"tickCount":100,"format":",d","labelOverlap":false,"labelExpr":"replace(datum.label,'\u2212','-')","labelColor":{"condition":{"test":"datum.value < 0","value":"#ff0000"},"value":"#e6e6e6"},"minExtent":52,"maxExtent":52,"title":null}}}},
  {"data":{"values":[{}]},"mark":{"type":"rule","color":"#808080","strokeWidth":1.5},"encoding":{"x":{"datum":1704153600000,"type":"temporal","axis":{"title":null}},"x2":{"datum":1724976000000},"y":{"datum":0,"type":"quantitative","scale":{"domain":[-200,600],"nice":false},"axis":{"title":null}}}},
  {"transform":[{"filter":"datum.v > 0"}],"mark":{"type":"bar","size":2},"encoding":{"y":{"field":"v","type":"quantitative","stack":null,"scale":{"domain":[-200,600],"nice":false},"axis":{"title":null}},"fill":{"datum":"SA5LMD每日","type":"nominal","scale":{"range":["#e00000"]},"legend":{"title":null,"symbolType":"M-1,-0.4H1V0.4H-1Z","symbolSize":196}}}},
  {"transform":[{"filter":"datum.v < 0"}],"mark":{"type":"bar","size":2,"color":"#1e9a55"},"encoding":{"y":{"field":"v","type":"quantitative","stack":null,"scale":{"domain":[-200,600],"nice":false},"axis":{"title":null}}}},
  {"transform":[{"filter":"isValid(datum.c)"}],"mark":{"type":"line","strokeWidth":2},"encoding":{"y":{"field":"c","type":"quantitative","scale":{"domain":[-200,600],"nice":false},"axis":{"title":null}},"stroke":{"datum":"SA5LMD累計","type":"nominal","scale":{"range":["#ed7d31"]},"legend":{"title":null,"symbolType":"stroke","symbolSize":225,"symbolStrokeWidth":2}}}}
 ]},
{"title":"05.夜盤_多_ATR","width":618,"height":145,"data":{"name":"p5"},
 "encoding":{"x":{"field":"d","type":"temporal","scale":{"type":"utc","domain":[1704153600000,1724976000000]},"axis":{"values":[1704153600000,1704758400000,1705363200000,1705968000000,1706572800000,1707177600000,1707782400000,1708387200000,1708992000000,1709596800000,1710201600000,1710806400000,1711411200000,1712016000000,1712620800000,1713225600000,1713830400000,1714435200000,1715040000000,1715644800000,1716249600000,1716854400000,1717459200000,1718064000000,1718668800000,1719273600000,1719878400000,1720483200000,1721088000000,1721692800000,1722297600000,1722902400000,1723507200000,1724112000000,1724716800000],"tickCount":100,"format":"%Y/%m/%d","labelAngle":90,"labelOverlap":false,"title":null}}},
 "layer":[
  {"transform":[{"filter":"isValid(datum.c)"}],"mark":{"type":"line","strokeWidth":2,"opacity":0},"encoding":{"y":{"field":"c","type":"quantitative","scale":{"domain":[-500,2500],"nice":false},"axis":{"values":[-500,0,500,1000,1500,2000,2500],"tickCount":100,"format":",d","labelOverlap":false,"labelExpr":"replace(datum.label,'\u2212','-')","labelColor":{"condition":{"test":"datum.value < 0","value":"#ff0000"},"value":"#e6e6e6"},"minExtent":57,"maxExtent":57,"title":null}}}},
  {"data":{"values":[{}]},"mark":{"type":"rule","color":"#808080","strokeWidth":1.5},"encoding":{"x":{"datum":1704153600000,"type":"temporal","axis":{"title":null}},"x2":{"datum":1724976000000},"y":{"datum":0,"type":"quantitative","scale":{"domain":[-500,2500],"nice":false},"axis":{"title":null}}}},
  {"transform":[{"filter":"datum.v > 0"}],"mark":{"type":"bar","size":2},"encoding":{"y":{"field":"v","type":"quantitative","stack":null,"scale":{"domain":[-500,2500],"nice":false},"axis":{"title":null}},"fill":{"datum":"N5LMA_ATR每日","type":"nominal","scale":{"range":["#e00000"]},"legend":{"title":null,"symbolType":"M-1,-0.4H1V0.4H-1Z","symbolSize":196}}}},
  {"transform":[{"filter":"datum.v < 0"}],"mark":{"type":"bar","size":2,"color":"#1e9a55"},"encoding":{"y":{"field":"v","type":"quantitative","stack":null,"scale":{"domain":[-500,2500],"nice":false},"axis":{"title":null}}}},
  {"transform":[{"filter":"isValid(datum.c)"}],"mark":{"type":"line","strokeWidth":2},"encoding":{"y":{"field":"c","type":"quantitative","scale":{"domain":[-500,2500],"nice":false},"axis":{"title":null}},"stroke":{"datum":"N5LMA_ATR累計","type":"nominal","scale":{"range":["#ed7d31"]},"legend":{"title":null,"symbolType":"stroke","symbolSize":225,"symbolStrokeWidth":2}}}}
 ]},
{"title":"09.夜盤_空_ATR","width":618,"height":145,"data":{"name":"p9"},
 "encoding":{"x":{"field":"d","type":"temporal","scale":{"type":"utc","domain":[1704153600000,1724976000000]},"axis":{"values":[1704153600000,1704758400000,1705363200000,1705968000000,1706572800000,1707177600000,1707782400000,1708387200000,1708992000000,1709596800000,1710201600000,1710806400000,1711411200000,1712016000000,1712620800000,1713225600000,1713830400000,1714435200000,1715040000000,1715644800000,1716249600000,1716854400000,1717459200000,1718064000000,1718668800000,1719273600000,1719878400000,1720483200000,1721088000000,1721692800000,1722297600000,1722902400000,1723507200000,1724112000000,1724716800000],"tickCount":100,"format":"%Y/%m/%d","labelAngle":90,"labelOverlap":false,"title":null}}},
 "layer":[
  {"transform":[{"filter":"isValid(datum.c)"}],"mark":{"type":"line","strokeWidth":2,"opacity":0},"encoding":{"y":{"field":"c","type":"quantitative","scale":{"domain":[-200,1000],"nice":false},"axis":{"values":[-200,0,200,400,600,800,1000],"tickCount":100,"format":",d","labelOverlap":false,"labelExpr":"replace(datum.label,'\u2212','-')","labelColor":{"condition":{"test":"datum.value < 0","value":"#ff0000"},"value":"#e6e6e6"},"minExtent":57,"maxExtent":57,"title":null}}}},
  {"data":{"values":[{}]},"mark":{"type":"rule","color":"#808080","strokeWidth":1.5},"encoding":{"x":{"datum":1704153600000,"type":"temporal","axis":{"title":null}},"x2":{"datum":1724976000000},"y":{"datum":0,"type":"quantitative","scale":{"domain":[-200,1000],"nice":false},"axis":{"title":null}}}},
  {"transform":[{"filter":"datum.v > 0"}],"mark":{"type":"bar","size":2},"encoding":{"y":{"field":"v","type":"quantitative","stack":null,"scale":{"domain":[-200,1000],"nice":false},"axis":{"title":null}},"fill":{"datum":"數列1","type":"nominal","scale":{"range":["#e00000"]},"legend":{"title":null,"symbolType":"M-1,-0.4H1V0.4H-1Z","symbolSize":196}}}},
  {"transform":[{"filter":"datum.v < 0"}],"mark":{"type":"bar","size":2,"color":"#1e9a55"},"encoding":{"y":{"field":"v","type":"quantitative","stack":null,"scale":{"domain":[-200,1000],"nice":false},"axis":{"title":null}}}},
  {"transform":[{"filter":"isValid(datum.c)"}],"mark":{"type":"line","strokeWidth":2},"encoding":{"y":{"field":"c","type":"quantitative","scale":{"domain":[-200,1000],"nice":false},"axis":{"title":null}},"stroke":{"datum":"數列2","type":"nominal","scale":{"range":["#ed7d31"]},"legend":{"title":null,"symbolType":"stroke","symbolSize":225,"symbolStrokeWidth":2}}}}
 ]},
{"title":"10.日盤_空_ATR","width":623,"height":145,"data":{"name":"p10"},
 "encoding":{"x":{"field":"d","type":"temporal","scale":{"type":"utc","domain":[1704153600000,1724976000000]},"axis":{"values":[1704153600000,1704758400000,1705363200000,1705968000000,1706572800000,1707177600000,1707782400000,1708387200000,1708992000000,1709596800000,1710201600000,1710806400000,1711411200000,1712016000000,1712620800000,1713225600000,1713830400000,1714435200000,1715040000000,1715644800000,1716249600000,1716854400000,1717459200000,1718064000000,1718668800000,1719273600000,1719878400000,1720483200000,1721088000000,1721692800000,1722297600000,1722902400000,1723507200000,1724112000000,1724716800000],"tickCount":100,"format":"%Y/%m/%d","labelAngle":90,"labelOverlap":false,"title":null}}},
 "layer":[
  {"transform":[{"filter":"isValid(datum.c)"}],"mark":{"type":"line","strokeWidth":2,"opacity":0},"encoding":{"y":{"field":"c","type":"quantitative","scale":{"domain":[-200,350],"nice":false},"axis":{"values":[-200,-150,-100,-50,0,50,100,150,200,250,300,350],"tickCount":100,"format":",d","labelOverlap":false,"labelExpr":"replace(datum.label,'\u2212','-')","labelColor":{"condition":{"test":"datum.value < 0","value":"#ff0000"},"value":"#e6e6e6"},"minExtent":52,"maxExtent":52,"title":null}}}},
  {"data":{"values":[{}]},"mark":{"type":"rule","color":"#808080","strokeWidth":1.5},"encoding":{"x":{"datum":1704153600000,"type":"temporal","axis":{"title":null}},"x2":{"datum":1724976000000},"y":{"datum":0,"type":"quantitative","scale":{"domain":[-200,350],"nice":false},"axis":{"title":null}}}},
  {"transform":[{"filter":"datum.v > 0"}],"mark":{"type":"bar","size":2},"encoding":{"y":{"field":"v","type":"quantitative","stack":null,"scale":{"domain":[-200,350],"nice":false},"axis":{"title":null}},"fill":{"datum":"數列1","type":"nominal","scale":{"range":["#e00000"]},"legend":{"title":null,"symbolType":"M-1,-0.4H1V0.4H-1Z","symbolSize":196}}}},
  {"transform":[{"filter":"datum.v < 0"}],"mark":{"type":"bar","size":2,"color":"#1e9a55"},"encoding":{"y":{"field":"v","type":"quantitative","stack":null,"scale":{"domain":[-200,350],"nice":false},"axis":{"title":null}}}},
  {"transform":[{"filter":"isValid(datum.c)"}],"mark":{"type":"line","strokeWidth":2},"encoding":{"y":{"field":"c","type":"quantitative","scale":{"domain":[-200,350],"nice":false},"axis":{"title":null}},"stroke":{"datum":"數列2","type":"nominal","scale":{"range":["#ed7d31"]},"legend":{"title":null,"symbolType":"stroke","symbolSize":225,"symbolStrokeWidth":2}}}}
 ]},
{"title":"11.日盤_空_大量黑K","width":623,"height":145,"data":{"name":"p11"},
 "encoding":{"x":{"field":"d","type":"temporal","scale":{"type":"utc","domain":[1704153600000,1724976000000]},"axis":{"values":[1704153600000,1704758400000,1705363200000,1705968000000,1706572800000,1707177600000,1707782400000,1708387200000,1708992000000,1709596800000,1710201600000,1710806400000,1711411200000,1712016000000,1712620800000,1713225600000,1713830400000,1714435200000,1715040000000,1715644800000,1716249600000,1716854400000,1717459200000,1718064000000,1718668800000,1719273600000,1719878400000,1720483200000,1721088000000,1721692800000,1722297600000,1722902400000,1723507200000,1724112000000,1724716800000],"tickCount":100,"format":"%Y/%m/%d","labelAngle":90,"labelOverlap":false,"title":null}}},
 "layer":[
  {"transform":[{"filter":"isValid(datum.c)"}],"mark":{"type":"line","strokeWidth":2,"opacity":0},"encoding":{"y":{"field":"c","type":"quantitative","scale":{"domain":[-200,400],"nice":false},"axis":{"values":[-200,-100,0,100,200,300,400],"tickCount":100,"format":",d","labelOverlap":false,"labelExpr":"replace(datum.label,'\u2212','-')","labelColor":{"condition":{"test":"datum.value < 0","value":"#ff0000"},"value":"#e6e6e6"},"minExtent":52,"maxExtent":52,"title":null}}}},
  {"data":{"values":[{}]},"mark":{"type":"rule","color":"#808080","strokeWidth":1.5},"encoding":{"x":{"datum":1704153600000,"type":"temporal","axis":{"title":null}},"x2":{"datum":1724976000000},"y":{"datum":0,"type":"quantitative","scale":{"domain":[-200,400],"nice":false},"axis":{"title":null}}}},
  {"transform":[{"filter":"datum.v > 0"}],"mark":{"type":"bar","size":2},"encoding":{"y":{"field":"v","type":"quantitative","stack":null,"scale":{"domain":[-200,400],"nice":false},"axis":{"title":null}},"fill":{"datum":"數列1","type":"nominal","scale":{"range":["#e00000"]},"legend":{"title":null,"symbolType":"M-1,-0.4H1V0.4H-1Z","symbolSize":196}}}},
  {"transform":[{"filter":"datum.v < 0"}],"mark":{"type":"bar","size":2,"color":"#1e9a55"},"encoding":{"y":{"field":"v","type":"quantitative","stack":null,"scale":{"domain":[-200,400],"nice":false},"axis":{"title":null}}}},
  {"transform":[{"filter":"isValid(datum.c)"}],"mark":{"type":"line","strokeWidth":2},"encoding":{"y":{"field":"c","type":"quantitative","scale":{"domain":[-200,400],"nice":false},"axis":{"title":null}},"stroke":{"datum":"數列2","type":"nominal","scale":{"range":["#ed7d31"]},"legend":{"title":null,"symbolType":"stroke","symbolSize":225,"symbolStrokeWidth":2}}}}
 ]},
{"title":"12.夜盤_空_大量黑K","width":623,"height":145,"data":{"name":"p12"},
 "encoding":{"x":{"field":"d","type":"temporal","scale":{"type":"utc","domain":[1704153600000,1724976000000]},"axis":{"values":[1704153600000,1704758400000,1705363200000,1705968000000,1706572800000,1707177600000,1707782400000,1708387200000,1708992000000,1709596800000,1710201600000,1710806400000,1711411200000,1712016000000,1712620800000,1713225600000,1713830400000,1714435200000,1715040000000,1715644800000,1716249600000,1716854400000,1717459200000,1718064000000,1718668800000,1719273600000,1719878400000,1720483200000,1721088000000,1721692800000,1722297600000,1722902400000,1723507200000,1724112000000,1724716800000],"tickCount":100,"format":"%Y/%m/%d","labelAngle":90,"labelOverlap":false,"title":null}}},
 "layer":[
  {"transform":[{"filter":"isValid(datum.c)"}],"mark":{"type":"line","strokeWidth":2,"opacity":0},"encoding":{"y":{"field":"c","type":"quantitative","scale":{"domain":[-100,100],"nice":false},"axis":{"values":[-100,-50,0,50,100],"tickCount":100,"format":",d","labelOverlap":false,"labelExpr":"replace(datum.label,'\u2212','-')","labelColor":{"condition":{"test":"datum.value < 0","value":"#ff0000"},"value":"#e6e6e6"},"minExtent":52,"maxExtent":52,"title":null}}}},
  {"data":{"values":[{}]},"mark":{"type":"rule","color":"#808080","strokeWidth":1.5},"encoding":{"x":{"datum":1704153600000,"type":"temporal","axis":{"title":null}},"x2":{"datum":1724976000000},"y":{"datum":0,"type":"quantitative","scale":{"domain":[-100,100],"nice":false},"axis":{"title":null}}}},
  {"transform":[{"filter":"datum.v > 0"}],"mark":{"type":"bar","size":2},"encoding":{"y":{"field":"v","type":"quantitative","stack":null,"scale":{"domain":[-100,100],"nice":false},"axis":{"title":null}},"fill":{"datum":"數列1","type":"nominal","scale":{"range":["#e00000"]},"legend":{"title":null,"symbolType":"M-1,-0.4H1V0.4H-1Z","symbolSize":196}}}},
  {"transform":[{"filter":"datum.v < 0"}],"mark":{"type":"bar","size":2,"color":"#1e9a55"},"encoding":{"y":{"field":"v","type":"quantitative","stack":null,"scale":{"domain":[-100,100],"nice":false},"axis":{"title":null}}}},
  {"transform":[{"filter":"isValid(datum.c)"}],"mark":{"type":"line","strokeWidth":2},"encoding":{"y":{"field":"c","type":"quantitative","scale":{"domain":[-100,100],"nice":false},"axis":{"title":null}},"stroke":{"datum":"數列2","type":"nominal","scale":{"range":["#ed7d31"]},"legend":{"title":null,"symbolType":"stroke","symbolSize":225,"symbolStrokeWidth":2}}}}
 ]},
{"title":"15.日盤_多_拉回買進","width":623,"height":145,"data":{"name":"p15"},
 "encoding":{"x":{"field":"d","type":"temporal","scale":{"type":"utc","domain":[1704153600000,1724976000000]},"axis":{"values":[1704153600000,1704758400000,1705363200000,1705968000000,1706572800000,1707177600000,1707782400000,1708387200000,1708992000000,1709596800000,1710201600000,1710806400000,1711411200000,1712016000000,1712620800000,1713225600000,1713830400000,1714435200000,1715040000000,1715644800000,1716249600000,1716854400000,1717459200000,1718064000000,1718668800000,1719273600000,1719878400000,1720483200000,1721088000000,1721692800000,1722297600000,1722902400000,1723507200000,1724112000000,1724716800000],"tickCount":100,"format":"%Y/%m/%d","labelAngle":90,"labelOverlap":false,"title":null}}},
 "layer":[
  {"transform":[{"filter":"isValid(datum.c)"}],"mark":{"type":"line","strokeWidth":2,"opacity":0},"encoding":{"y":{"field":"c","type":"quantitative","scale":{"domain":[-200,800],"nice":false},"axis":{"values":[-200,0,200,400,600,800],"tickCount":100,"format":",d","labelOverlap":false,"labelExpr":"replace(datum.label,'\u2212','-')","labelColor":{"condition":{"test":"datum.value < 0","value":"#ff0000"},"value":"#e6e6e6"},"minExtent":52,"maxExtent":52,"title":null}}}},
  {"data":{"values":[{}]},"mark":{"type":"rule","color":"#808080","strokeWidth":1.5},"encoding":{"x":{"datum":1704153600000,"type":"temporal","axis":{"title":null}},"x2":{"datum":1724976000000},"y":{"datum":0,"type":"quantitative","scale":{"domain":[-200,800],"nice":false},"axis":{"title":null}}}},
  {"transform":[{"filter":"datum.v > 0"}],"mark":{"type":"bar","size":2},"encoding":{"y":{"field":"v","type":"quantitative","stack":null,"scale":{"domain":[-200,800],"nice":false},"axis":{"title":null}},"fill":{"datum":"數列1","type":"nominal","scale":{"range":["#e00000"]},"legend":{"title":null,"symbolType":"M-1,-0.4H1V0.4H-1Z","symbolSize":196}}}},
  {"transform":[{"filter":"datum.v < 0"}],"mark":{"type":"bar","size":2,"color":"#1e9a55"},"encoding":{"y":{"field":"v","type":"quantitative","stack":null,"scale":{"domain":[-200,800],"nice":false},"axis":{"title":null}}}},
  {"transform":[{"filter":"isValid(datum.c)"}],"mark":{"type":"line","strokeWidth":2},"encoding":{"y":{"field":"c","type":"quantitative","scale":{"domain":[-200,800],"nice":false},"axis":{"title":null}},"stroke":{"datum":"數列2","type":"nominal","scale":{"range":["#ed7d31"]},"legend":{"title":null,"symbolType":"stroke","symbolSize":225,"symbolStrokeWidth":2}}}}
 ]},
{"title":"16.下午盤_多_ATR","width":623,"height":145,"data":{"name":"p16"},
 "encoding":{"x":{"field":"d","type":"temporal","scale":{"type":"utc","domain":[1704153600000,1724976000000]},"axis":{"values":[1704153600000,1704758400000,1705363200000,1705968000000,1706572800000,1707177600000,1707782400000,1708387200000,1708992000000,1709596800000,1710201600000,1710806400000,1711411200000,1712016000000,1712620800000,1713225600000,1713830400000,1714435200000,1715040000000,1715644800000,1716249600000,1716854400000,1717459200000,1718064000000,1718668800000,1719273600000,1719878400000,1720483200000,1721088000000,1721692800000,1722297600000,1722902400000,1723507200000,1724112000000,1724716800000],"tickCount":100,"format":"%Y/%m/%d","labelAngle":90,"labelOverlap":false,"title":null}}},
 "layer":[
  {"transform":[{"filter":"isValid(datum.c)"}],"mark":{"type":"line","strokeWidth":2,"opacity":0},"encoding":{"y":{"field":"c","type":"quantitative","scale":{"domain":[-100,200],"nice":false},"axis":{"values":[-100,-50,0,50,100,150,200],"tickCount":100,"format":",d","labelOverlap":false,"labelExpr":"replace(datum.label,'\u2212','-')","labelColor":{"condition":{"test":"datum.value < 0","value":"#ff0000"},"value":"#e6e6e6"},"minExtent":52,"maxExtent":52,"title":null}}}},
  {"data":{"values":[{}]},"mark":{"type":"rule","color":"#808080","strokeWidth":1.5},"encoding":{"x":{"datum":1704153600000,"type":"temporal","axis":{"title":null}},"x2":{"datum":1724976000000},"y":{"datum":0,"type":"quantitative","scale":{"domain":[-100,200],"nice":false},"axis":{"title":null}}}},
  {"transform":[{"filter":"datum.v > 0"}],"mark":{"type":"bar","size":2},"encoding":{"y":{"field":"v","type":"quantitative","stack":null,"scale":{"domain":[-100,200],"nice":false},"axis":{"title":null}},"fill":{"datum":"數列1","type":"nominal","scale":{"range":["#e00000"]},"legend":{"title":null,"symbolType":"M-1,-0.4H1V0.4H-1Z","symbolSize":196}}}},
  {"transform":[{"filter":"datum.v < 0"}],"mark":{"type":"bar","size":2,"color":"#1e9a55"},"encoding":{"y":{"field":"v","type":"quantitative","stack":null,"scale":{"domain":[-100,200],"nice":false},"axis":{"title":null}}}},
  {"transform":[{"filter":"isValid(datum.c)"}],"mark":{"type":"line","strokeWidth":2},"encoding":{"y":{"field":"c","type":"quantitative","scale":{"domain":[-100,200],"nice":false},"axis":{"title":null}},"stroke":{"datum":"數列2","type":"nominal","scale":{"range":["#ed7d31"]},"legend":{"title":null,"symbolType":"stroke","symbolSize":225,"symbolStrokeWidth":2}}}}
 ]}
]
}
